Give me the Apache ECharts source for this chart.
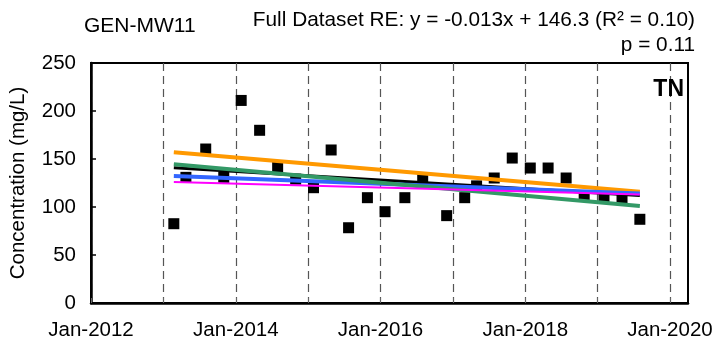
<!DOCTYPE html>
<html>
<head>
<meta charset="utf-8">
<script src="https://cdn.jsdelivr.net/npm/echarts@6/dist/echarts.min.js"></script>
<style>
html,body{margin:0;padding:0;background:#fff;}
#chart{width:717px;height:350px;}
</style>
</head>
<body>
<div id="chart"></div>
<script>
// ---- data ----
const sampleDates = ['2013-02-22','2013-04-24','2013-08-02','2013-11-01','2014-01-28','2014-05-01','2014-07-31','2014-10-30',
  '2015-01-28','2015-04-27','2015-07-24','2015-10-27','2016-01-24','2016-05-03','2016-08-01','2016-11-30','2017-03-01',
  '2017-04-30','2017-07-28','2017-10-27','2018-01-26','2018-04-26','2018-07-26','2018-10-25','2019-02-02','2019-05-04','2019-08-02'];
const tnValues = [82.6,130.9,160.4,130.9,211,179.9,141.7,129,120.1,159.4,78.4,109.7,95.1,109.7,129.5,91,109.7,122,130.2,151,140.6,140.6,130.2,111.8,109.7,109,87.2];

// trend lines: value at first sample date, value at last sample date
const trendBlack  = [141, 112];
const trendOrange = [157, 116];
const trendGreen  = [144.5, 101];
const trendBlue   = [132.3, 114];
const trendPink   = [126, 113];

const tickYears = [2012,2013,2014,2015,2016,2017,2018,2019,2020];
const labelYears = [2012,2014,2016,2018,2020];
const yTicks = [0,50,100,150,200,250];

const stationName = 'GEN-MW11';
const eqText = 'Full Dataset RE: y = -0.013x + 146.3 (R² = 0.10)';
const pText = 'p = 0.11';
const paramName = 'TN';

// ---- build ----
const ts = s => new Date(s).getTime();
const yearTs = y => Date.UTC(y,0,1);
const xMin = ts('2012-01-01');
const xMax = ts('2020-04-01');
const firstX = ts(sampleDates[0]);
const lastX = ts(sampleDates[sampleDates.length-1]);
const trend = v => [[firstX, v[0]], [lastX, v[1]]];

const FONT = '"Liberation Sans", Arial, sans-serif';
const chart = echarts.init(document.getElementById('chart'), null, {renderer:'canvas'});

function lineSeries(data, color, width, z){
  return {type:'line', data: trend(data), symbol:'none', silent:true, z:z,
    lineStyle:{color:color, width:width, cap:'butt'}};
}

chart.setOption({
  animation:false,
  backgroundColor:'#fff',
  title:[
    {text: stationName, left:79, top:11, textStyle:{fontFamily:FONT, fontSize:21, fontWeight:'normal', color:'#000'}},
    {text: eqText, right:17, top:5, textStyle:{fontFamily:FONT, fontSize:20.8, fontWeight:'normal', color:'#000'}},
    {text: pText, right:17, top:30, textStyle:{fontFamily:FONT, fontSize:20.8, fontWeight:'normal', color:'#000'}},
    {text: paramName, right:28, top:73, textStyle:{fontFamily:FONT, fontSize:23, fontWeight:'bold', color:'#000'}}
  ],
  grid:{left:90, right:29, top:63, bottom:47, show:true, borderColor:'#000', borderWidth:2, backgroundColor:'transparent'},
  xAxis:{
    type:'value', min:xMin, max:xMax, scale:true,
    axisLine:{show:true, onZero:false, lineStyle:{color:'#000', width:2.5}},
    axisTick:{show:true, inside:true, length:5, customValues: tickYears.map(yearTs), lineStyle:{color:'#666', width:1}},
    axisLabel:{show:true, customValues: labelYears.map(yearTs), margin:17, color:'#000', fontFamily:FONT, fontSize:20.5,
      hideOverlap:false,
      formatter: v => 'Jan-' + new Date(v).getUTCFullYear()},
    splitLine:{show:true, lineStyle:{color:'#555', width:1.2, type:[8,5]}}
  },
  yAxis:{
    type:'value', min:0, max:250, interval:50,
    name:'Concentration (mg/L)', nameLocation:'middle', nameGap:62, nameRotate:90,
    nameTextStyle:{fontFamily:FONT, fontSize:20.5, color:'#000'},
    axisLine:{show:true, lineStyle:{color:'#000', width:2.5}},
    axisTick:{show:true, inside:true, length:5, lineStyle:{color:'#000', width:1.5}},
    axisLabel:{margin:15, color:'#000', fontFamily:FONT, fontSize:20.5, formatter: v => yTicks.includes(v) ? String(v) : ''},
    splitLine:{show:false}
  },
  series:[
    {type:'scatter', data: sampleDates.map((d,i)=>[ts(d), tnValues[i]]), symbol:'rect', symbolSize:11,
      itemStyle:{color:'#000', opacity:1}, z:2},
    lineSeries(trendBlack, '#000000', 3, 3),
    lineSeries(trendOrange, '#FF9900', 4, 3),
    lineSeries(trendBlue, '#3366FF', 4, 3),
    lineSeries(trendGreen, '#339966', 4, 3),
    lineSeries(trendPink, '#FF00FF', 2, 3)
  ]
});
</script>
</body>
</html>
